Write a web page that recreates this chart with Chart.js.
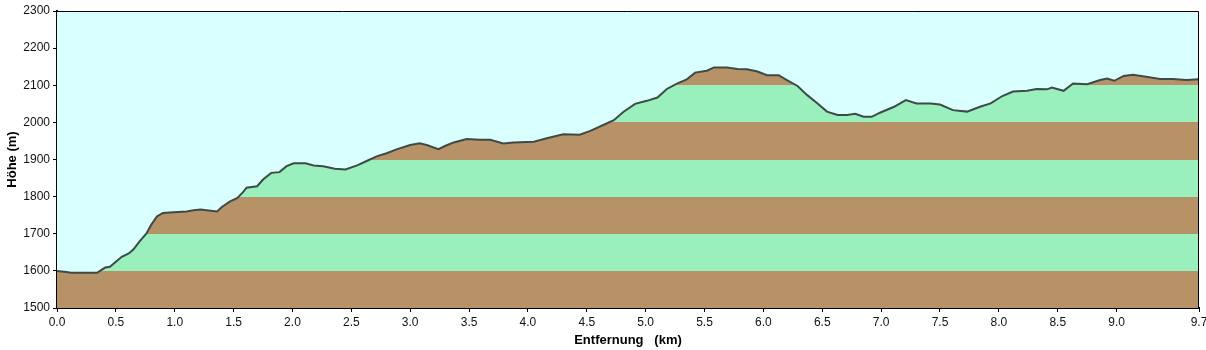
<!DOCTYPE html>
<html>
<head>
<meta charset="utf-8">
<script src="https://cdn.jsdelivr.net/npm/chart.js@4/dist/chart.umd.min.js"></script>
<style>
html,body{margin:0;padding:0;background:#fff;}
#wrap{width:1206px;height:350px;position:relative;}
</style>
</head>
<body>
<div id="wrap"><canvas id="c" width="1206" height="350"></canvas></div>
<script>
// Distance along route (km)
const distKm = [0, 0.08, 0.12, 0.34, 0.365, 0.41, 0.45, 0.49, 0.55, 0.61, 0.65, 0.70, 0.76, 0.80, 0.85, 0.90, 0.99, 1.10, 1.16, 1.22, 1.27, 1.36, 1.40, 1.47, 1.53, 1.58, 1.61, 1.70, 1.75, 1.82, 1.89, 1.95, 2.01, 2.11, 2.18, 2.26, 2.36, 2.45, 2.55, 2.63, 2.72, 2.80, 2.89, 3.00, 3.08, 3.14, 3.24, 3.30, 3.37, 3.48, 3.59, 3.68, 3.79, 3.88, 4.05, 4.16, 4.30, 4.44, 4.53, 4.64, 4.73, 4.81, 4.91, 5.01, 5.10, 5.18, 5.27, 5.35, 5.42, 5.52, 5.58, 5.69, 5.78, 5.86, 5.95, 6.03, 6.13, 6.20, 6.29, 6.37, 6.46, 6.54, 6.63, 6.71, 6.78, 6.85, 6.92, 6.99, 7.11, 7.21, 7.30, 7.42, 7.50, 7.61, 7.73, 7.84, 7.93, 8.03, 8.12, 8.24, 8.32, 8.41, 8.45, 8.55, 8.63, 8.75, 8.86, 8.92, 8.98, 9.06, 9.14, 9.25, 9.37, 9.48, 9.59, 9.70];
// Elevation (m)
const elevM = [1600, 1597, 1595, 1595, 1600, 1609, 1611, 1622, 1638, 1647, 1658, 1679, 1701, 1724, 1747, 1756, 1758, 1760, 1763, 1765, 1763, 1760, 1772, 1787, 1796, 1812, 1824, 1828, 1846, 1864, 1866, 1882, 1890, 1890, 1884, 1882, 1875, 1873, 1884, 1896, 1909, 1917, 1928, 1939, 1944, 1939, 1928, 1937, 1946, 1955, 1953, 1953, 1943, 1946, 1948, 1957, 1968, 1967, 1977, 1993, 2006, 2028, 2050, 2058, 2067, 2090, 2105, 2116, 2134, 2139, 2148, 2148, 2144, 2143, 2137, 2127, 2127, 2114, 2098, 2074, 2051, 2029, 2020, 2020, 2023, 2015, 2015, 2026, 2042, 2060, 2051, 2051, 2048, 2033, 2029, 2042, 2051, 2071, 2083, 2085, 2090, 2089, 2094, 2085, 2105, 2103, 2114, 2118, 2112, 2125, 2128, 2123, 2117, 2117, 2114, 2116];
// Axis tick values
const xTickValues = [0, 0.5, 1.0, 1.5, 2.0, 2.5, 3.0, 3.5, 4.0, 4.5, 5.0, 5.5, 6.0, 6.5, 7.0, 7.5, 8.0, 8.5, 9.0, 9.7];
const yTickValues = [1500, 1600, 1700, 1800, 1900, 2000, 2100, 2200, 2300];
// Height bands (boundaries in m)
const bandEdges = [1500, 1600, 1700, 1800, 1900, 2000, 2100, 2200, 2300];

const COL_SKY = '#D9FFFF';
const COL_BROWN = '#B89267';
const COL_GREEN = '#9AF0BC';
const COL_LINE = '#3E4A46';

function bandFill(context) {
  const chart = context.chart;
  const area = chart.chartArea;
  const y = chart.scales.y;
  if (!area || !y) return COL_BROWN;
  const y0 = y.getPixelForValue(bandEdges[0]);
  const y1 = y.getPixelForValue(bandEdges[bandEdges.length - 1]);
  const g = chart.ctx.createLinearGradient(0, y0, 0, y1);
  const span = bandEdges[bandEdges.length - 1] - bandEdges[0];
  for (let i = 0; i < bandEdges.length - 1; i++) {
    const col = i % 2 === 0 ? COL_BROWN : COL_GREEN;
    const a = (bandEdges[i] - bandEdges[0]) / span;
    const b = (bandEdges[i + 1] - bandEdges[0]) / span;
    g.addColorStop(a, col);
    g.addColorStop(Math.max(a, b - 0.0001), col);
  }
  return g;
}

const frame = {
  id: 'frame',
  beforeDatasetsDraw(chart) {
    const {ctx, chartArea: a} = chart;
    ctx.save();
    ctx.fillStyle = COL_SKY;
    ctx.fillRect(a.left, a.top, a.right - a.left, a.bottom - a.top);
    ctx.restore();
  },
  afterDatasetsDraw(chart) {
    const {ctx, chartArea: a} = chart;
    ctx.save();
    ctx.strokeStyle = '#000';
    ctx.lineWidth = 1;
    ctx.beginPath();
    ctx.moveTo(a.left, a.top + 0.5);
    ctx.lineTo(a.right - 0.5, a.top + 0.5);
    ctx.lineTo(a.right - 0.5, a.bottom);
    ctx.stroke();
    ctx.restore();
  }
};

const tickFont = {family: 'Liberation Sans, Arial, sans-serif', size: 12};
const titleFont = {family: 'Liberation Sans, Arial, sans-serif', size: 13, weight: 'bold'};

new Chart(document.getElementById('c'), {
  type: 'line',
  data: {
    datasets: [{
      data: distKm.map((d, i) => ({x: d, y: elevM[i]})),
      borderColor: COL_LINE,
      borderWidth: 2,
      pointRadius: 0,
      tension: 0,
      fill: 'start',
      backgroundColor: bandFill
    }]
  },
  options: {
    responsive: false,
    animation: false,
    events: [],
    layout: {padding: {left: 0, right: 7, top: 11, bottom: 0}},
    plugins: {legend: {display: false}, tooltip: {enabled: false}},
    scales: {
      x: {
        type: 'linear',
        min: 0,
        max: 9.7,
        afterBuildTicks(s) { s.ticks = xTickValues.map(v => ({value: v})); },
        afterFit(s) { s.height = 42; s.paddingLeft = 0; s.paddingRight = 0; },
        ticks: {
          autoSkip: false, maxRotation: 0, padding: 3, color: '#111', font: tickFont,
          callback: v => Number(v).toFixed(1)
        },
        grid: {display: true, drawOnChartArea: false, drawTicks: true, tickLength: 4, color: '#000', tickWidth: 1},
        border: {display: true, color: '#000', width: 2},
        title: {display: true, text: 'Entfernung   (km)', color: '#000', font: titleFont, padding: {top: 2, bottom: 2}}
      },
      y: {
        type: 'linear',
        min: 1500,
        max: 2300,
        afterBuildTicks(s) { s.ticks = yTickValues.map(v => ({value: v})); },
        afterFit(s) { s.width = 57; s.paddingTop = 0; s.paddingBottom = 0; },
        ticks: {padding: 3, color: '#111', font: tickFont, callback: v => String(v)},
        grid: {display: true, drawOnChartArea: false, drawTicks: true, tickLength: 4, color: '#000', tickWidth: 1},
        border: {display: true, color: '#000', width: 2},
        title: {display: true, text: 'Höhe (m)', color: '#000', font: titleFont, padding: {top: 5, bottom: 2}}
      }
    }
  },
  plugins: [frame]
});
</script>
</body>
</html>
